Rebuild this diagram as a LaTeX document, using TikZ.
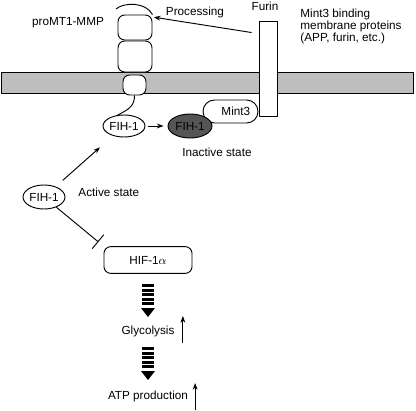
\documentclass[tikz,border=0pt]{standalone}
\usepackage{fontspec}
\setmainfont{Liberation Sans}
\usetikzlibrary{arrows.meta,shapes.geometric,shapes.misc}
\definecolor{memgray}{RGB}{190,190,190}
\definecolor{fihdark}{RGB}{85,85,85}
\begin{document}
\begin{tikzpicture}[x=0.75pt,y=-0.75pt, font=\fontsize{8.8}{9}\selectfont, line join=round, line width=0.7pt,
	>={Stealth[length=5pt,width=3.6pt]},
	dom/.style={draw,fill=white,rounded corners=5pt,inner sep=0pt},
	fih/.style={draw,ellipse,fill=white,inner sep=0pt,minimum width=31.5pt,minimum height=16.5pt},
	lbl/.style={inner sep=0pt}]
		\useasboundingbox (0,0) rectangle (416,410);
		% membrane
		\fill[memgray] (1,72) rectangle (413,93);
		\draw (1,72) rectangle (413,93);
		% proMT1-MMP domains
		\node[dom,minimum width=25.5pt,minimum height=18.75pt] (mmpA) at (135,27.5) {};
		\node[dom,minimum width=25.5pt,minimum height=23.25pt] (mmpB) at (135,56.5) {};
		\node[dom,minimum width=17.25pt,minimum height=15pt] (mmpC) at (134.5,85) {};
		\draw (116,9) .. controls (124,2) and (146,2) .. (mmpA.north east);
		\node[lbl] (mmp) at (68,23) {proMT1-MMP};
		% furin and Mint3
		\node[draw,fill=white,inner sep=0pt,minimum width=13.5pt,minimum height=71.25pt] (furin) at (268,68.5) {};
		\node[lbl] at (265,6) {Furin};
		\node[lbl,align=left,anchor=west] at (300,26) {Mint3 binding\\membrane proteins\\(APP, furin, etc.)};
		\node[draw,fill=white,rounded rectangle,inner sep=0pt,minimum width=41.25pt,minimum height=17.25pt] (mint) at (230.5,111.5) {\hspace{8pt}Mint3};
		\node[fih,fill=fihdark,minimum width=33pt,minimum height=18pt] (fihD) at (190,126) {FIH-1};
		\node[lbl] at (217,152) {Inactive state};
		\draw[->] ([xshift=-5.25pt,yshift=-9pt]furin.north west) -- ([xshift=1pt,yshift=-2pt]mmpA.north east);
		\node[lbl] at (195,12) {Processing};
		% FIH-1
		\node[fih] (fihM) at (124,126) {FIH-1};
		\draw (mmpC.south) .. controls +(0,10) and +(12,-6) .. (fihM.120);
		\draw[->,shorten <=2pt,shorten >=3pt] (fihM) -- (fihD);
		\node[fih,minimum height=18pt] (fihA) at (44,197) {FIH-1};
		\node[lbl,anchor=west] at (78,192) {Active state};
		\draw[->,shorten <=7pt,shorten >=13pt] (fihA) -- (fihM);
		\node[dom,minimum width=66pt,minimum height=20pt] (hif) at (148,260) {HIF-1$\alpha$};
		\draw[-{Bar[width=13.5pt]},shorten >=5pt] (fihA) -- (hif.north west);
		% downstream
		\foreach \y in {284,347}{
			\foreach \k in {0,...,4} \fill (142,\y+\k*4.6) rectangle (154,\y+\k*4.6+3);
			\fill (141,\y+24) -- (155,\y+24) -- (148,\y+33) -- cycle;
		}
		\node[lbl] (glyc) at (148,331) {Glycolysis};
		\draw[->] ([xshift=6pt,yshift=-9pt]glyc.east) -- ++(0,-27);
		\node[lbl] (atp) at (148,396) {ATP production};
		\draw[->] ([xshift=5pt,yshift=-10.5pt]atp.east) -- ++(0,-27);
\end{tikzpicture}
\end{document}
